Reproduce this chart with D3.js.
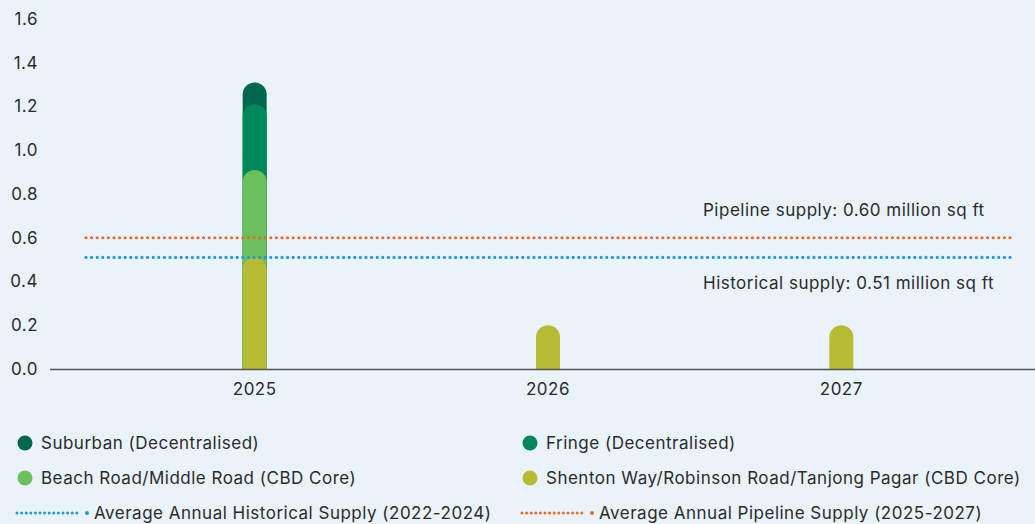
<!DOCTYPE html>
<html>
<head>
<meta charset="utf-8">
<script src="https://cdn.jsdelivr.net/npm/d3@7"></script>
<style>
  html, body { margin: 0; padding: 0; background: #eaf3f9; }
  svg { display: block; font-family: Inter, "Open Sans", sans-serif; }
  svg text { font-size: 17px; letter-spacing: 0.5px; }
</style>
</head>
<body>
<div id="chart"></div>
<script>
// chart data
const years = ['2025', '2026', '2027'];
const seriesNames = [
    'Shenton Way/Robinson Road/Tanjong Pagar (CBD Core)',
    'Beach Road/Middle Road (CBD Core)',
    'Fringe (Decentralised)',
    'Suburban (Decentralised)'
];
const shenton = [0.51, 0.2, 0.2];
const beach = [0.40, 0, 0];
const fringe = [0.30, 0, 0];
const suburban = [0.10, 0, 0];
const yTicks = [0, 0.2, 0.4, 0.6, 0.8, 1.0, 1.2, 1.4, 1.6];
const historicalAvg = 0.51;
const pipelineAvg = 0.60;

const colors = {
    'Suburban (Decentralised)': '#00674f',
    'Fringe (Decentralised)': '#00885a',
    'Beach Road/Middle Road (CBD Core)': '#6bbf5c',
    'Shenton Way/Robinson Road/Tanjong Pagar (CBD Core)': '#b7ba33'
};
const blue = '#1e9ad8';
const orange = '#e8682a';
const textColor = '#2b2b2b';

const W = 1035, H = 524;
const svg = d3.select('#chart').append('svg')
    .attr('width', W).attr('height', H);

const x = d3.scaleBand().domain(years).range([108, 988]);
const y = d3.scaleLinear().domain([0, 1.6]).range([369, 19]);
const barW = 24;

// y tick labels (no axis line)
const yAxis = svg.append('g')
    .attr('transform', 'translate(38,0)')
    .call(d3.axisLeft(y).tickValues(yTicks).tickFormat(d3.format('.1f')).tickSize(0).tickPadding(0));
yAxis.select('.domain').remove();
yAxis.selectAll('text')
    .attr('fill', textColor)
    .style('font-size', '17px')
    .style('font-family', 'Inter, sans-serif');

// stacked bars: each segment drawn from zero to its cumulative top with a rounded cap
const stackData = years.map((yr, i) => ({
    year: yr,
    'Shenton Way/Robinson Road/Tanjong Pagar (CBD Core)': shenton[i],
    'Beach Road/Middle Road (CBD Core)': beach[i],
    'Fringe (Decentralised)': fringe[i],
    'Suburban (Decentralised)': suburban[i]
}));
const stacked = d3.stack().keys(seriesNames)(stackData);

function roundTopBar(cx, top, bottom, w) {
    const r = w / 2;
    const h = bottom - top;
    if (h <= 0) return '';
    const rr = Math.min(r, h);
    return `M${cx - r},${bottom}V${top + rr}A${r},${rr} 0 0 1 ${cx + r},${top + rr}V${bottom}Z`;
}

// draw from top layer (back) down to bottom layer (front)
stacked.slice().reverse().forEach(layer => {
    svg.append('g').selectAll('path')
        .data(layer.filter(d => d[1] - d[0] > 0))
        .enter().append('path')
        .attr('d', d => roundTopBar(x(d.data.year) + x.bandwidth() / 2, y(d[1]), y(0), barW))
        .attr('fill', colors[layer.key]);
});

// average lines
const lineX0 = 86, lineX1 = 1011;
[[pipelineAvg, orange], [historicalAvg, blue]].forEach(([v, c]) => {
    svg.append('line')
        .attr('x1', lineX0).attr('x2', lineX1)
        .attr('y1', y(v)).attr('y2', y(v))
        .attr('stroke', c)
        .attr('stroke-width', 3.2)
        .attr('stroke-linecap', 'round')
        .attr('stroke-dasharray', '0 5.6');
});

svg.append('text')
    .attr('x', 703).attr('y', y(pipelineAvg) - 22)
    .attr('fill', textColor)
    .text('Pipeline supply: 0.60 million sq ft');
svg.append('text')
    .attr('x', 703).attr('y', y(historicalAvg) + 32)
    .attr('fill', textColor)
    .text('Historical supply: 0.51 million sq ft');

// x axis
svg.append('line')
    .attr('x1', 50).attr('x2', W)
    .attr('y1', y(0) + 0.5).attr('y2', y(0) + 0.5)
    .attr('stroke', '#555').attr('stroke-width', 1.3);
svg.append('g').selectAll('text')
    .data(years)
    .enter().append('text')
    .attr('x', d => x(d) + x.bandwidth() / 2)
    .attr('y', 395)
    .attr('text-anchor', 'middle')
    .attr('fill', textColor)
    .text(d => d);

// legend
const legendItems = [
    { name: 'Suburban (Decentralised)', type: 'dot', x: 25, y: 443 },
    { name: 'Fringe (Decentralised)', type: 'dot', x: 530, y: 443 },
    { name: 'Beach Road/Middle Road (CBD Core)', type: 'dot', x: 25, y: 478 },
    { name: 'Shenton Way/Robinson Road/Tanjong Pagar (CBD Core)', type: 'dot', x: 530, y: 478 },
    { name: 'Average Annual Historical Supply (2022-2024)', type: 'line', color: blue, x: 17, y: 513 },
    { name: 'Average Annual Pipeline Supply (2025-2027)', type: 'line', color: orange, x: 522, y: 513 }
];

const legend = svg.append('g');
legendItems.forEach(item => {
    const g = legend.append('g');
    let tx;
    if (item.type === 'dot') {
        g.append('circle')
            .attr('cx', item.x).attr('cy', item.y).attr('r', 7.5)
            .attr('fill', colors[item.name]);
        tx = item.x + 16;
    } else {
        g.append('line')
            .attr('x1', item.x).attr('x2', item.x + 63)
            .attr('y1', item.y).attr('y2', item.y)
            .attr('stroke', item.color).attr('stroke-width', 3)
            .attr('stroke-linecap', 'round')
            .attr('stroke-dasharray', '0 4.6');
        g.append('circle')
            .attr('cx', item.x + 70).attr('cy', item.y).attr('r', 2)
            .attr('fill', item.color);
        tx = item.x + 77;
    }
    g.append('text')
        .attr('x', tx).attr('y', item.y + 6)
        .attr('fill', textColor)
        .text(item.name);
});
</script>
</body>
</html>
